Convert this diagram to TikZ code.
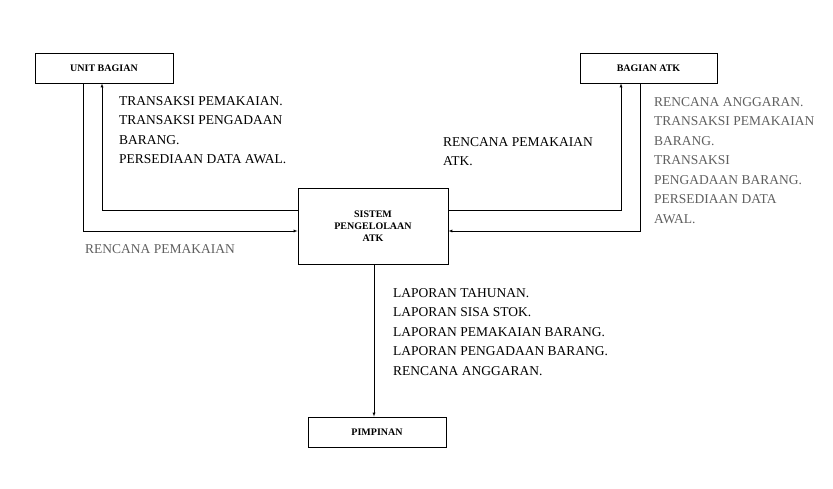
\documentclass[tikz,border=0pt]{standalone}
\usepackage{fontspec}
\setmainfont{Liberation Serif}
\usetikzlibrary{positioning}
\definecolor{flowgray}{RGB}{95,95,95}
\tikzset{
  entity/.style={draw, thick, font=\bfseries, minimum height=30pt, inner sep=0pt},
  flow/.style={-latex},
  note/.style={anchor=north west, align=left, inner sep=0pt},
}
\begin{document}
\begin{tikzpicture}[x=1pt,y=-1pt,font=\fontsize{13.5}{19.5}\selectfont]
    \useasboundingbox (0,0) rectangle (833,489);

      \node [entity, minimum width=138pt] (unit) at (104,68) {UNIT BAGIAN};
      \node [entity, minimum width=137pt] (atk) at (648.5,68) {BAGIAN ATK};
      \node [entity, minimum width=150pt, minimum height=76pt, align=center] (sys) at (373,226)
        {SISTEM\\ PENGELOLAAN\\ ATK};
      \node [entity, minimum width=138pt] (pim) at (377,432) {PIMPINAN};

      % flows to and from unit bagian
      \draw [flow] (sys.west |- 0,210) -| (unit.south -| 102,0);
      \draw [flow] (unit.south -| 83,0) |- (sys.west |- 0,231);
      % flows to and from bagian atk
      \draw [flow] (sys.east |- 0,210) -| (atk.south -| 621,0);
      \draw [flow] (atk.south -| 640,0) |- (sys.east |- 0,231);
      % flow to pimpinan
      \draw [flow] (sys.south -| 374,0) -- (pim.north -| 374,0);

      \node [note] (t1) at (119,96) {TRANSAKSI PEMAKAIAN.\\ TRANSAKSI PENGADAAN\\ BARANG.\\ PERSEDIAAN DATA AWAL.};
      \node [note, text=flowgray] (t2) at (85,244) {RENCANA PEMAKAIAN};
      \node [note] (t3) at (443,137) {RENCANA PEMAKAIAN\\ ATK.};
      \node [note, text=flowgray] (t4) at (654,97) {RENCANA ANGGARAN.\\ TRANSAKSI PEMAKAIAN\\ BARANG.\\ TRANSAKSI\\ PENGADAAN BARANG.\\ PERSEDIAAN DATA\\ AWAL.};
      \node [note] (t5) at (393,288) {LAPORAN TAHUNAN.\\ LAPORAN SISA STOK.\\ LAPORAN PEMAKAIAN BARANG.\\ LAPORAN PENGADAAN BARANG.\\ RENCANA ANGGARAN.};
\end{tikzpicture}
\end{document}
